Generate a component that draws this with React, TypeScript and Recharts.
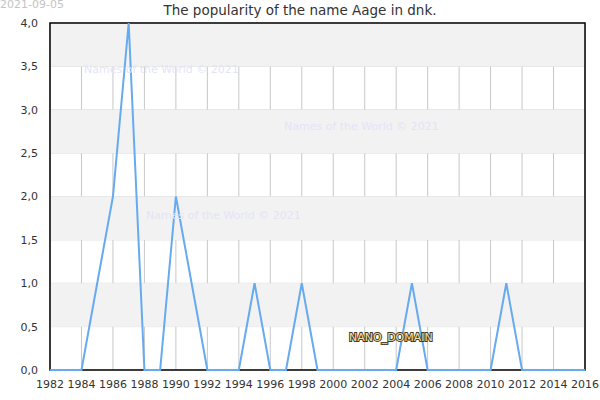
import React from 'react';
import {
  LineChart,
  Line,
  XAxis,
  YAxis,
  CartesianGrid,
  ReferenceArea,
} from 'recharts';

// yearly counts for the name
const years = [
  1982, 1983, 1984, 1985, 1986, 1987, 1988, 1989, 1990, 1991, 1992, 1993,
  1994, 1995, 1996, 1997, 1998, 1999, 2000, 2001, 2002, 2003, 2004, 2005,
  2006, 2007, 2008, 2009, 2010, 2011, 2012, 2013, 2014, 2015, 2016,
];
const counts = [
  0, 0, 0, 1, 2, 4, 0, 0, 2, 1, 0, 0,
  0, 1, 0, 0, 1, 0, 0, 0, 0, 0, 0, 1,
  0, 0, 0, 0, 0, 1, 0, 0, 0, 0, 0,
];
const xTicks = [
  1982, 1984, 1986, 1988, 1990, 1992, 1994, 1996, 1998, 2000, 2002, 2004,
  2006, 2008, 2010, 2012, 2014, 2016,
];
const yTicks = [0, 0.5, 1, 1.5, 2, 2.5, 3, 3.5, 4];
// shaded horizontal bands [from, to]
const bands = [
  [3.5, 4],
  [2.5, 3],
  [1.5, 2],
  [0.5, 1],
];

const data = years.map((year, i) => ({ year, value: counts[i] }));

const font = '"DejaVu Sans", sans-serif';
const tickStyle = { fontSize: 11, fill: '#333', fontFamily: font };

const watermark: React.CSSProperties = {
  position: 'absolute',
  fontFamily: font,
  fontSize: 11,
  color: '#e4e4f6',
  whiteSpace: 'nowrap',
};

// plot frame, drawn from the rectangle that the reference area computes
const Frame = (props: any) => (
  <rect
    x={props.x}
    y={props.y}
    width={props.width}
    height={props.height}
    fill="none"
    stroke="#000"
    strokeWidth={1.5}
  />
);

export default function App() {
  return (
    <div style={{ position: 'absolute', left: 0, top: 0, width: 600, height: 400, background: '#fff' }}>
      <LineChart
        width={600}
        height={400}
        data={data}
        margin={{ top: 23, right: 15, bottom: 0, left: 0 }}
      >
        {bands.map(([a, b]) => (
          <ReferenceArea key={a} x1={1982} x2={2016} y1={a} y2={b} fill="#f2f2f2" fillOpacity={1} stroke="none" />
        ))}
        <CartesianGrid horizontal={true} vertical={false} stroke="#dddddd" />
        <CartesianGrid horizontal={false} vertical={true} stroke="#c8c8c8" />
        <XAxis
          dataKey="year"
          type="number"
          domain={[1982, 2016]}
          ticks={xTicks}
          interval={0}
          height={30}
          tickLine={false}
          axisLine={false}
          tick={tickStyle}
          tickMargin={4}
        />
        <YAxis
          type="number"
          domain={[0, 4]}
          ticks={yTicks}
          interval={0}
          width={50}
          tickLine={false}
          axisLine={false}
          tick={tickStyle}
          tickMargin={6}
          tickFormatter={(v: number) => v.toFixed(1).replace('.', ',')}
        />
        <Line
          type="linear"
          dataKey="value"
          stroke="#66aaf0"
          strokeWidth={2}
          dot={false}
          isAnimationActive={false}
        />
        <ReferenceArea x1={1982} x2={2016} y1={0} y2={4} ifOverflow="visible" shape={Frame} />
      </LineChart>

      <div style={{ position: 'absolute', left: 0, top: -2, fontFamily: font, fontSize: 11, color: '#c4c4c4' }}>
        2021-09-05
      </div>
      <div style={{ position: 'absolute', left: 0, width: 600, top: 2, textAlign: 'center', fontFamily: font, fontSize: 13.5, color: '#333' }}>
        The popularity of the name Aage in dnk.
      </div>
      <div style={{ ...watermark, left: 84, top: 63 }}>Names of the World © 2021</div>
      <div style={{ ...watermark, left: 284, top: 120 }}>Names of the World © 2021</div>
      <div style={{ ...watermark, left: 146, top: 209 }}>Names of the World © 2021</div>
      <svg style={{ position: 'absolute', left: 0, top: 0 }} width={600} height={400}>
        <text
          x={349}
          y={341}
          fontFamily={font}
          fontSize={11}
          fill="#f3e2b4"
          stroke="#4a3a1c"
          strokeWidth={2}
          paintOrder="stroke"
        >
          NANO_DOMAIN
        </text>
      </svg>
    </div>
  );
}
